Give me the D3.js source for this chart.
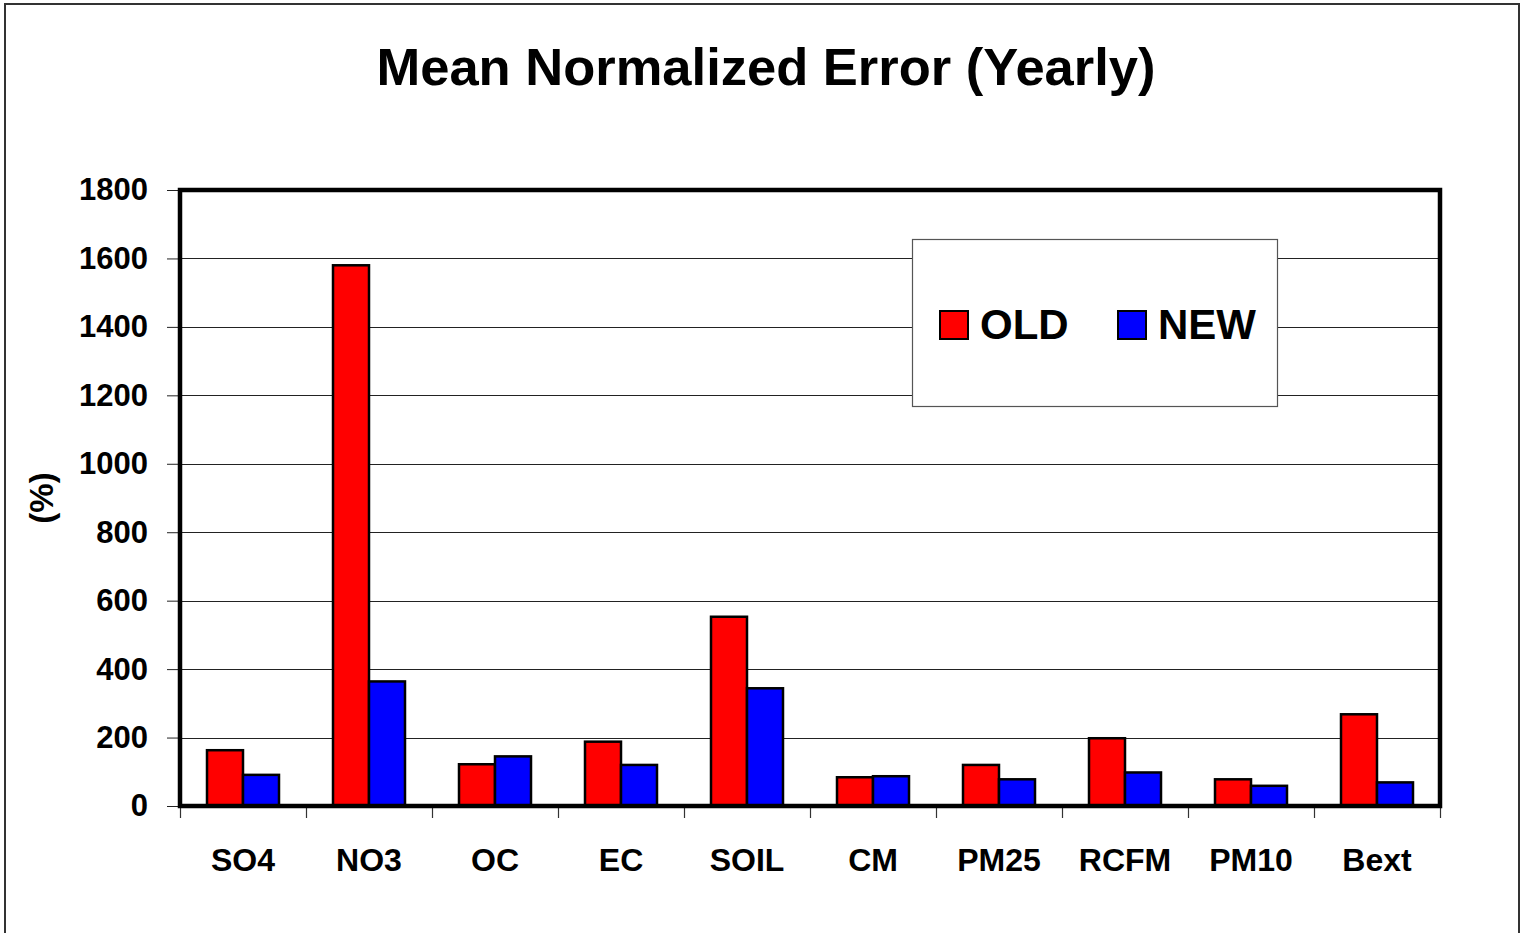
<!DOCTYPE html>
<html>
<head>
<meta charset="utf-8">
<script src="https://cdn.jsdelivr.net/npm/d3@7"></script>
<style>
  html, body { margin: 0; padding: 0; background: #fff; }
  svg { display: block; font-family: "Liberation Sans", Arial, sans-serif; }
</style>
</head>
<body>
<svg id="chart" width="1523" height="933"></svg>
<script>
const categories = ["SO4", "NO3", "OC", "EC", "SOIL", "CM", "PM25", "RCFM", "PM10", "Bext"];
const oldValues = [163, 1580, 122, 188, 553, 84, 120, 198, 78, 268];
const newValues = [91, 364, 145, 120, 344, 87, 78, 98, 59, 69];
const seriesNames = ["OLD", "NEW"];
const seriesColors = ["#ff0000", "#0000ff"];
const yTicks = [0, 200, 400, 600, 800, 1000, 1200, 1400, 1600, 1800];
const titleText = "Mean Normalized Error (Yearly)";
const yLabel = "(%)";

const svg = d3.select("#chart");
const m = { left: 180, right: 1440, top: 190, bottom: 806 };

// outer border
svg.append("rect").attr("x", 5).attr("y", 4).attr("width", 1514).attr("height", 940)
  .attr("fill", "#fff").attr("stroke", "#333").attr("stroke-width", 2);

const x = d3.scaleBand().domain(categories).range([m.left, m.right]).paddingInner(0).paddingOuter(0);
const y = d3.scaleLinear().domain([0, 1800]).range([m.bottom, m.top]);
const x1 = d3.scaleBand().domain(seriesNames).range([27, x.bandwidth() - 27]).padding(0);

// gridlines
svg.append("g").selectAll("line").data(yTicks.filter(d => d > 0 && d < 1800)).join("line")
  .attr("x1", m.left).attr("x2", m.right)
  .attr("y1", d => Math.round(y(d)) + 0.5).attr("y2", d => Math.round(y(d)) + 0.5)
  .attr("stroke", "#222").attr("stroke-width", 1);

// y axis
const yAxis = d3.axisLeft(y).tickValues(yTicks).tickSize(13).tickPadding(19).tickFormat(d3.format("d"));
const gy = svg.append("g").attr("transform", `translate(${m.left},0)`).call(yAxis);
gy.select(".domain").remove();
gy.selectAll(".tick line").attr("stroke", "#222").attr("stroke-width", 1);
gy.selectAll(".tick text").attr("font-size", 31).attr("font-weight", "bold").attr("fill", "#000")
  .attr("font-family", "'Liberation Sans', Arial, sans-serif");

// x axis ticks at band boundaries
const boundaries = categories.map(c => x(c)).concat([m.right]);
svg.append("g").selectAll("line").data(boundaries).join("line")
  .attr("x1", d => Math.round(d) + 0.5).attr("x2", d => Math.round(d) + 0.5)
  .attr("y1", m.bottom).attr("y2", m.bottom + 12)
  .attr("stroke", "#333").attr("stroke-width", 1.2);

const xAxis = d3.axisBottom(x).tickSize(0).tickPadding(42);
const gx = svg.append("g").attr("transform", `translate(0,${m.bottom})`).call(xAxis);
gx.select(".domain").remove();
gx.selectAll(".tick text").attr("font-size", 32).attr("font-weight", "bold").attr("fill", "#000")
  .attr("font-family", "'Liberation Sans', Arial, sans-serif");

// bars
const data = categories.map((c, i) => ({ c, vals: [oldValues[i], newValues[i]] }));
const groups = svg.append("g").selectAll("g").data(data).join("g")
  .attr("transform", d => `translate(${x(d.c)},0)`);
groups.selectAll("rect").data(d => d.vals.map((v, j) => ({ v, s: seriesNames[j], j }))).join("rect")
  .attr("x", d => x1(d.s))
  .attr("y", d => y(d.v))
  .attr("width", x1.bandwidth())
  .attr("height", d => y(0) - y(d.v))
  .attr("fill", d => seriesColors[d.j])
  .attr("stroke", "#000").attr("stroke-width", 2.5);

// plot frame (thick)
svg.append("rect").attr("x", m.left).attr("y", m.top)
  .attr("width", m.right - m.left).attr("height", m.bottom - m.top)
  .attr("fill", "none").attr("stroke", "#000").attr("stroke-width", 4.5);

// legend
const lg = svg.append("g");
lg.append("rect").attr("x", 912.5).attr("y", 239.5).attr("width", 365).attr("height", 167)
  .attr("fill", "#fff").attr("stroke", "#555").attr("stroke-width", 1.2);
const legendItems = [{ name: seriesNames[0], color: seriesColors[0], x: 940 }, { name: seriesNames[1], color: seriesColors[1], x: 1118 }];
legendItems.forEach(it => {
  lg.append("rect").attr("x", it.x).attr("y", 311).attr("width", 28).attr("height", 28)
    .attr("fill", it.color).attr("stroke", "#000").attr("stroke-width", 2);
  lg.append("text").attr("x", it.x + 40).attr("y", 339)
    .attr("font-size", 42).attr("font-weight", "bold").attr("fill", "#000").text(it.name);
});

// title
svg.append("text").attr("x", 766).attr("y", 85).attr("text-anchor", "middle")
  .attr("font-size", 52.5).attr("font-weight", "bold").attr("fill", "#000").text(titleText);

// y label
svg.append("text").attr("transform", `translate(53,${(m.top + m.bottom) / 2}) rotate(-90)`)
  .attr("text-anchor", "middle").attr("font-size", 33).attr("font-weight", "bold").attr("fill", "#000")
  .text(yLabel);
</script>
</body>
</html>
